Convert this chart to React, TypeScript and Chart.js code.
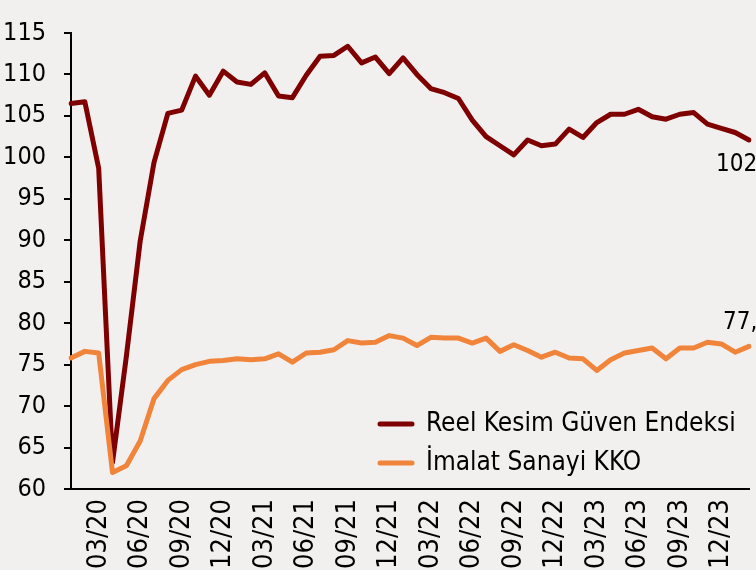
import React, { useEffect, useRef } from 'react';
import { Chart, registerables } from 'chart.js';

Chart.register(...registerables);

const months: string[] = [
  '01/20', '02/20', '03/20', '04/20', '05/20', '06/20', '07/20', '08/20', '09/20', '10/20', '11/20', '12/20',
  '01/21', '02/21', '03/21', '04/21', '05/21', '06/21', '07/21', '08/21', '09/21', '10/21', '11/21', '12/21',
  '01/22', '02/22', '03/22', '04/22', '05/22', '06/22', '07/22', '08/22', '09/22', '10/22', '11/22', '12/22',
  '01/23', '02/23', '03/23', '04/23', '05/23', '06/23', '07/23', '08/23', '09/23', '10/23', '11/23', '12/23',
  '01/24', '02/24',
];

const reelKesimGuven: number[] = [
  106.5, 106.7, 98.7, 63.2, 76.0, 89.9, 99.4, 105.3, 105.7, 109.8, 107.5, 110.4,
  109.1, 108.8, 110.2, 107.4, 107.2, 109.9, 112.2, 112.3, 113.4, 111.4, 112.1, 110.1,
  112.0, 110.0, 108.3, 107.8, 107.1, 104.5, 102.5, 101.4, 100.3, 102.1, 101.4, 101.6,
  103.4, 102.4, 104.2, 105.2, 105.2, 105.8, 104.9, 104.6, 105.2, 105.4, 104.0, 103.5,
  103.0, 102.1,
];

const imalatKKO: number[] = [
  75.8, 76.6, 76.4, 62.0, 62.8, 65.8, 70.9, 73.1, 74.4, 75.0, 75.4, 75.5,
  75.7, 75.6, 75.7, 76.3, 75.3, 76.4, 76.5, 76.8, 77.9, 77.6, 77.7, 78.5,
  78.2, 77.3, 78.3, 78.2, 78.2, 77.6, 78.2, 76.6, 77.4, 76.7, 75.9, 76.5,
  75.8, 75.7, 74.3, 75.6, 76.4, 76.7, 77.0, 75.7, 77.0, 77.0, 77.7, 77.5,
  76.5, 77.2,
];

const seriesNames: string[] = ['Reel Kesim Güven Endeksi', 'İmalat Sanayi KKO'];
const seriesColors: string[] = ['#7f0000', '#f0843a'];

const yMin = 60;
const yMax = 115;
const yStep = 5;

const FONT = '"DejaVu Sans Condensed", "DejaVu Sans", Verdana, sans-serif';
const BG = '#f2f0ef';

const fmt = (v: number) => v.toFixed(1).replace('.', ',');

const overlayPlugin = {
  id: 'overlay',
  beforeDraw(chart: any) {
    const { ctx, width, height } = chart;
    ctx.save();
    ctx.fillStyle = BG;
    ctx.fillRect(0, 0, width, height);
    ctx.restore();
  },
  afterDraw(chart: any) {
    const { ctx } = chart;
    ctx.save();
    // End-of-series value labels
    ctx.font = `24px ${FONT}`;
    ctx.fillStyle = '#000';
    ctx.textAlign = 'left';
    ctx.textBaseline = 'middle';
    const m0 = chart.getDatasetMeta(0);
    const m1 = chart.getDatasetMeta(1);
    const p0 = m0.data[m0.data.length - 1];
    const p1 = m1.data[m1.data.length - 1];
    const t0 = fmt(reelKesimGuven[reelKesimGuven.length - 1]);
    const t1 = fmt(imalatKKO[imalatKKO.length - 1]);
    const w0 = ctx.measureText(t0).width;
    const w1 = ctx.measureText(t1).width;
    ctx.fillText(t0, p0.x - 2 - w0 / 2, p0.y + 25);
    ctx.fillText(t1, p1.x - 2 - w1 / 2, p1.y - 24);

    // Legend (inside plot, lower right)
    ctx.font = `26px ${FONT}`;
    const items = [
      { y: 424, color: seriesColors[0], text: seriesNames[0] },
      { y: 463, color: seriesColors[1], text: seriesNames[1] },
    ];
    items.forEach((it) => {
      ctx.strokeStyle = it.color;
      ctx.lineWidth = 5;
      ctx.lineCap = 'round';
      ctx.beginPath();
      ctx.moveTo(380, it.y);
      ctx.lineTo(412, it.y);
      ctx.stroke();
      ctx.fillStyle = '#000';
      ctx.fillText(it.text, 426, it.y);
    });
    ctx.restore();
  },
};

export default function App() {
  const canvasRef = useRef<HTMLCanvasElement | null>(null);

  useEffect(() => {
    document.body.style.margin = '0';
    const canvas = canvasRef.current;
    if (!canvas) return;
    const chart = new Chart(canvas, {
      type: 'line',
      data: {
        labels: months,
        datasets: [
          {
            label: seriesNames[0],
            data: reelKesimGuven,
            borderColor: seriesColors[0],
            backgroundColor: seriesColors[0],
            borderWidth: 5,
            pointRadius: 0,
            tension: 0,
            borderJoinStyle: 'round',
            borderCapStyle: 'round',
            order: 1,
          },
          {
            label: seriesNames[1],
            data: imalatKKO,
            borderColor: seriesColors[1],
            backgroundColor: seriesColors[1],
            borderWidth: 5,
            pointRadius: 0,
            tension: 0,
            borderJoinStyle: 'round',
            borderCapStyle: 'round',
            order: 0,
          },
        ],
      },
      options: {
        animation: false,
        responsive: false,
        maintainAspectRatio: false,
        layout: { padding: { top: 31, right: 7, left: 0, bottom: 0 } },
        plugins: {
          legend: { display: false },
          tooltip: { enabled: false },
        },
        scales: {
          x: {
            type: 'category',
            offset: false,
            grid: { display: false, drawTicks: false },
            border: { display: true, color: '#000', width: 2 },
            ticks: {
              autoSkip: false,
              maxRotation: 90,
              minRotation: 90,
              padding: 10,
              color: '#000',
              font: { family: FONT, size: 27 },
              callback: (_v: any, i: number) => ((i - 2) % 3 === 0 && i >= 2 ? months[i] : ''),
            },
            afterFit: (scale: any) => {
              scale.height = 81;
              scale.paddingLeft = 0;
              scale.paddingRight = 0;
            },
          },
          y: {
            min: yMin,
            max: yMax,
            grid: { drawOnChartArea: false, drawTicks: true, tickLength: 7, color: '#000', lineWidth: 2 },
            border: { display: true, color: '#000', width: 2 },
            ticks: {
              stepSize: yStep,
              padding: 18,
              color: '#000',
              font: { family: FONT, size: 25 },
            },
            afterFit: (scale: any) => {
              scale.width = 71;
            },
          },
        },
      },
      plugins: [overlayPlugin],
    } as any);
    return () => chart.destroy();
  }, []);

  return (
    <div style={{ position: 'absolute', left: 0, top: 0, width: 756, height: 570, overflow: 'hidden', background: BG }}>
      <canvas ref={canvasRef} width={756} height={570} style={{ width: 756, height: 570, display: 'block' }} />
    </div>
  );
}
